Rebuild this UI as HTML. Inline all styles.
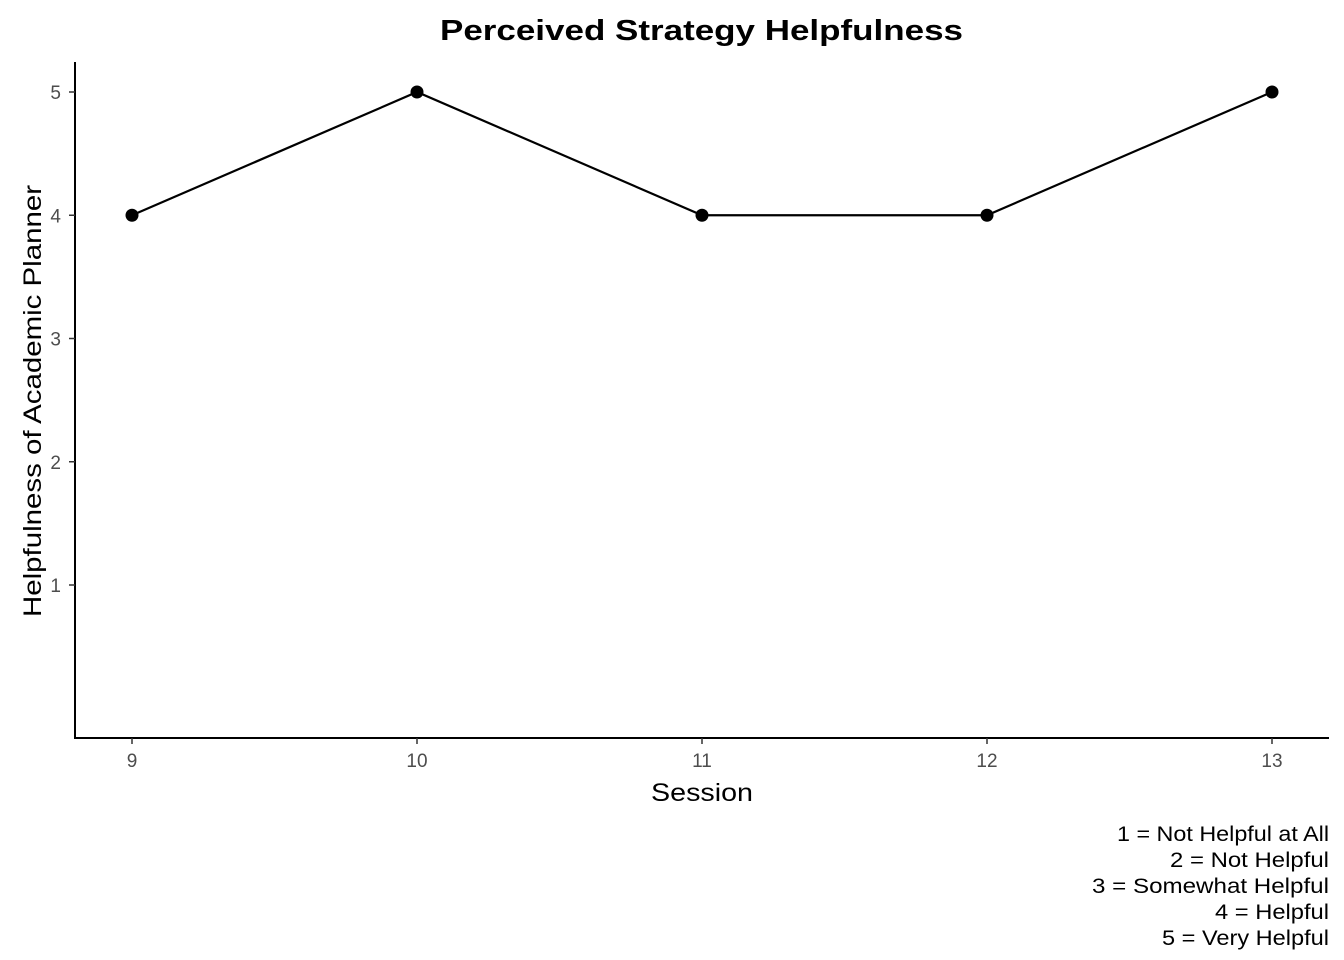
<!DOCTYPE html>
<html><head><meta charset="utf-8"><style>
body{margin:0;background:#fff;}
svg{display:block;font-family:"Liberation Sans",Arial,sans-serif;}
</style></head><body>
<svg id="chart" width="1344" height="960">
<text x="440" y="40" font-size="29" font-weight="bold" textLength="523" lengthAdjust="spacingAndGlyphs">Perceived Strategy Helpfulness</text>
<line x1="75" y1="62" x2="75" y2="739" stroke="#000" stroke-width="2"/>
<line x1="74" y1="738" x2="1329" y2="738" stroke="#000" stroke-width="2"/>
<g id="yticks"></g><g id="xticks"></g><g id="series"></g>
<text x="651" y="801" font-size="25" textLength="102" lengthAdjust="spacingAndGlyphs">Session</text>
<text transform="translate(41,617) rotate(-90)" font-size="25" textLength="432" lengthAdjust="spacingAndGlyphs">Helpfulness of Academic Planner</text>
<g font-size="21">
<text x="1117" y="841" textLength="212" lengthAdjust="spacingAndGlyphs">1 = Not Helpful at All</text>
<text x="1170" y="867" textLength="159" lengthAdjust="spacingAndGlyphs">2 = Not Helpful</text>
<text x="1092" y="893" textLength="237" lengthAdjust="spacingAndGlyphs">3 = Somewhat Helpful</text>
<text x="1215" y="919" textLength="114" lengthAdjust="spacingAndGlyphs">4 = Helpful</text>
<text x="1162" y="945" textLength="167" lengthAdjust="spacingAndGlyphs">5 = Very Helpful</text>
</g>
</svg>
<script>
const sessions=[9,10,11,12,13];
const ratings=[4,5,4,4,5];
const yTicks=[1,2,3,4,5];
const NS="http://www.w3.org/2000/svg";
function xs(v){return 132+(v-9)*285;}
function ys(v){return 92+(5-v)*123.25;}
function mk(tag,attrs,parent){const e=document.createElementNS(NS,tag);for(const k in attrs)e.setAttribute(k,attrs[k]);parent.appendChild(e);return e;}
const yt=document.getElementById('yticks'),xt=document.getElementById('xticks'),sg=document.getElementById('series');
yTicks.forEach(v=>{
 const l=mk('line',{x1:69,x2:75,y1:ys(v),y2:ys(v),stroke:'#333','stroke-width':1.5},yt);
 
 
 const t=mk('text',{x:61,y:ys(v)+7,'text-anchor':'end','font-size':19,fill:'#4d4d4d'},yt);
 t.textContent=v;
 
 
});
sessions.forEach(v=>{
 const l=mk('line',{x1:xs(v),x2:xs(v),y1:738,y2:744,stroke:'#333','stroke-width':1.5},xt);
 
 
 const t=mk('text',{x:xs(v),y:767,'text-anchor':'middle','font-size':19,fill:'#4d4d4d'},xt);
 t.textContent=v;
 
 
});
const pts=sessions.map((s,i)=>xs(s)+','+ys(ratings[i])).join(' ');
const pl=mk('polyline',{points:pts,fill:'none',stroke:'#000','stroke-width':2.2},sg);


sessions.forEach((s,i)=>{
 const c=mk('circle',{cx:xs(s),cy:ys(ratings[i]),r:6.5,fill:'#000'},sg);
 
 
});
</script>
</body></html>
